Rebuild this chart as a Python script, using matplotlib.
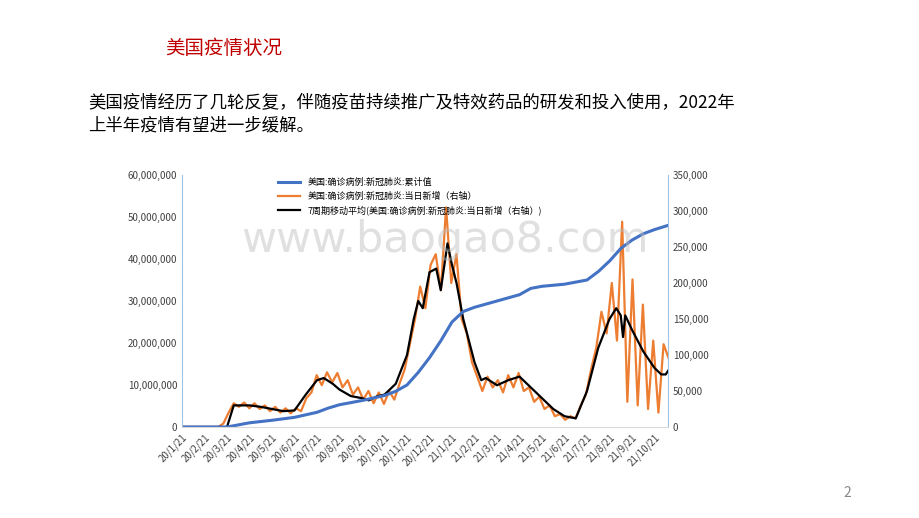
import matplotlib
matplotlib.use("Agg")
import matplotlib.pyplot as plt
import numpy as np

plt.rcParams["font.family"] = ["Noto Sans CJK SC", "DejaVu Sans"]

# -----------------------------
# Data (months since 2020-01-21)
# -----------------------------
x_labels = ["20/1/21", "20/2/21", "20/3/21", "20/4/21", "20/5/21", "20/6/21",
            "20/7/21", "20/8/21", "20/9/21", "20/10/21", "20/11/21", "20/12/21",
            "21/1/21", "21/2/21", "21/3/21", "21/4/21", "21/5/21", "21/6/21",
            "21/7/21", "21/8/21", "21/9/21", "21/10/21"]

cum_t = [0, 2, 3, 4, 5, 6, 6.5, 7, 8, 9, 9.5, 10, 10.5, 11, 11.5, 12, 12.5, 13,
         14, 15, 15.5, 16, 17, 17.5, 18, 18.5, 19, 19.5, 20, 20.5, 21, 21.6]
cum_cases = [0, 0, 1.0, 1.6, 2.3, 3.5, 4.5, 5.3, 6.3, 7.5, 8.5, 10, 13, 16.5,
             20.5, 25, 27.5, 28.5, 30, 31.5, 33, 33.5, 34, 34.5, 35, 37, 39.5,
             42.5, 44.5, 46, 47, 48]  # millions

ma_t = [0, 1, 2, 2.3, 3, 3.5, 4, 4.5, 5, 5.5, 6, 6.3, 6.7, 7, 7.5, 8, 8.3, 8.7,
        9, 9.5, 10, 10.3, 10.5, 10.7, 11, 11.3, 11.5, 11.8, 12, 12.2, 12.5, 13,
        13.3, 13.5, 14, 14.5, 15, 15.5, 16, 16.5, 17, 17.5, 18, 18.5, 19, 19.3,
        19.5, 19.6, 19.7, 20, 20.5, 21, 21.3, 21.5, 21.6]
ma_new = [0, 0, 0, 30, 30, 28, 25, 22, 23, 45, 65, 68, 60, 52, 43, 40, 37, 43,
          45, 60, 100, 150, 175, 165, 215, 220, 190, 255, 225, 200, 150, 90,
          65, 68, 58, 65, 70, 55, 40, 25, 15, 12, 50, 110, 150, 165, 155,
          125, 155, 135, 105, 82, 73, 73, 78]  # thousands

# weekly samples, alternating highs and lows (thousands)
daily_new = [0, 0, 0, 0, 0, 0, 0, 0,
             5, 20, 33, 28, 34, 26, 33, 25, 30, 22, 28, 20, 26, 19, 26, 22,
             40, 48, 72, 58, 76, 62, 75, 55, 65, 45, 55, 38, 50, 33, 48, 32,
             50, 38, 60, 80, 115, 150, 195, 165, 225, 240, 190, 305, 200, 240,
             150, 130, 90, 70, 50, 70, 55, 65, 48, 72, 55, 75, 50, 55, 35, 42,
             25, 30, 15, 18, 10, 15, 12, 30, 45, 80, 110, 160, 130, 200, 120,
             285, 35, 205, 30, 170, 25, 120, 20, 115, 95]

blue = "#4472C4"
orange = "#ED7D31"

fig = plt.figure(figsize=(9.2, 5.18), dpi=100)
fig.text(165 / 920, 1 - 48 / 518, "美国疫情状况", fontsize=14, color="#C00000", va="center")
fig.text(88 / 920, 1 - 103 / 518,
         "美国疫情经历了几轮反复，伴随疫苗持续推广及特效药品的研发和投入使用，2022年",
         fontsize=12.5, va="center")
fig.text(88 / 920, 1 - 125 / 518, "上半年疫情有望进一步缓解。", fontsize=12.5, va="center")
fig.text(843 / 920, 1 - 493 / 518, "2", fontsize=10, color="#888888", va="center")

ax = fig.add_axes([182 / 920, 1 - 427 / 518, 486 / 920, 252 / 518])
ax2 = ax.twinx()

week_t = np.arange(len(daily_new)) * 12 / 52.14
ax2.plot(week_t, daily_new, color=orange, lw=1.6, label="美国:确诊病例:新冠肺炎:当日新增（右轴）")
ax2.plot(ma_t, ma_new, color="black", lw=1.6, label="7周期移动平均(美国:确诊病例:新冠肺炎:当日新增（右轴）)")
l1, = ax.plot(cum_t, cum_cases, color=blue, lw=2.2, label="美国:确诊病例:新冠肺炎:累计值")
ax.set_zorder(ax2.get_zorder() + 1)
ax.patch.set_visible(False)

ax.set_xlim(0, 21.6)
ax.set_ylim(0, 60)
ax2.set_ylim(0, 350)
ax.set_yticks(np.arange(0, 61, 10))
ax.set_yticklabels(["0"] + [f"{v:,}" for v in range(10000000, 60000001, 10000000)])
ax2.set_yticks(np.arange(0, 351, 50))
ax2.set_yticklabels(["0"] + [f"{v:,}" for v in range(50000, 350001, 50000)])
ax.set_xticks(range(len(x_labels)))
ax.set_xticklabels(x_labels, rotation=45, ha="right", rotation_mode="anchor")

for a in (ax, ax2):
    a.tick_params(labelsize=7, length=0, colors="#404040")
    for s in a.spines.values():
        s.set_visible(False)
ax.spines["left"].set_visible(True)
ax.spines["left"].set_color("#9DC3E6")
ax.spines["bottom"].set_visible(True)
ax.spines["bottom"].set_color("#D9D9D9")
ax2.spines["right"].set_visible(True)
ax2.spines["right"].set_color("#9DC3E6")

h2, lab2 = ax2.get_legend_handles_labels()
ax.legend([l1] + h2, [l1.get_label()] + lab2, loc="upper left",
          bbox_to_anchor=(0.18, 1.02), frameon=False, fontsize=6.5, handlelength=2.5)

fig.text(445 / 920, 1 - 240 / 518, "www.baogao8.com", fontsize=31, color="#BBBBBB",
         alpha=0.45, ha="center", va="center", family="DejaVu Sans")

fig.savefig("out.png", dpi=100)
